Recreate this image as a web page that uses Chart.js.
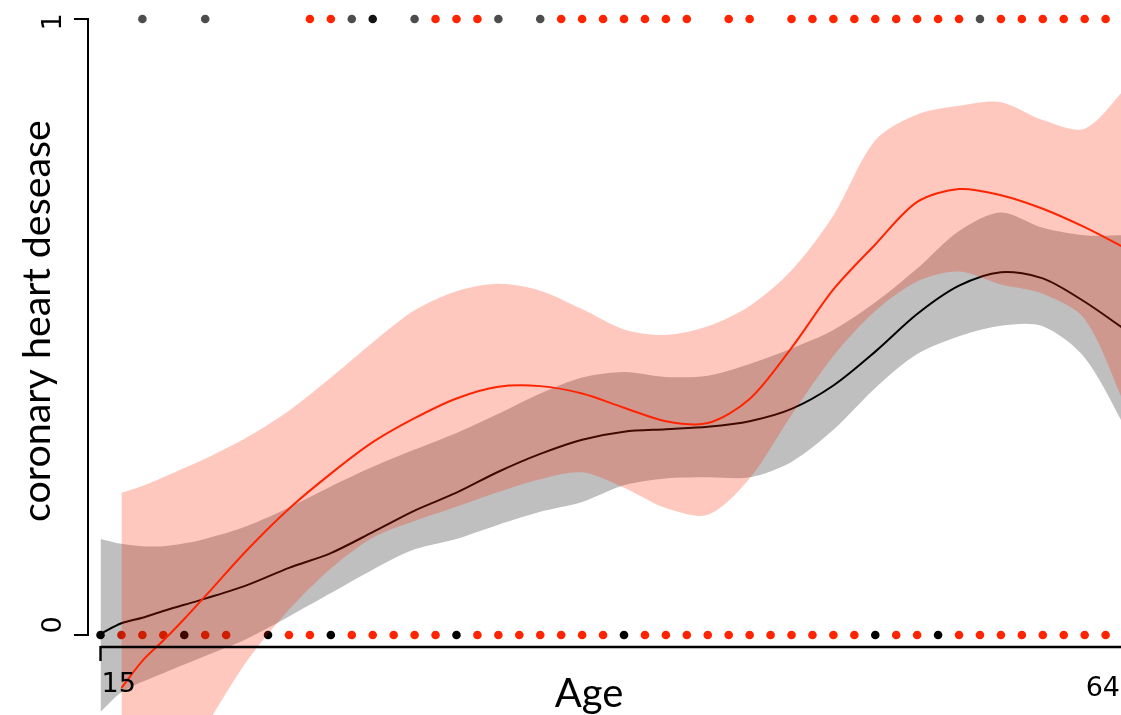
<!DOCTYPE html>
<html>
<head>
<meta charset="utf-8">
<script src="https://cdn.jsdelivr.net/npm/chart.js@4.4.1/dist/chart.umd.min.js"></script>
<style>
  html, body { margin: 0; padding: 0; background: #ffffff; }
  canvas { display: block; }
</style>
</head>
<body>
<canvas id="chart" width="1121" height="715"></canvas>
<script>
// age grid for the fitted curves
const ages = [15, 16, 17, 18, 19, 20, 22, 24, 26, 28, 30, 32, 34, 36, 38, 40, 42, 44, 46, 48, 50, 52, 54, 56, 58, 60, 62, 64];
// the red group starts one year later
const agesRed = [16, 17, 18, 19, 20, 22, 24, 26, 28, 30, 32, 34, 36, 38, 40, 42, 44, 46, 48, 50, 52, 54, 56, 58, 60, 62, 64];

// black group: fit + confidence band
const blackFit = [0.002, 0.019, 0.028, 0.039, 0.049, 0.059, 0.081, 0.109, 0.133, 0.167, 0.202, 0.231, 0.265, 0.294, 0.317, 0.330, 0.334, 0.338, 0.347, 0.367, 0.405, 0.460, 0.521, 0.567, 0.589, 0.579, 0.541, 0.494];
const blackUpper = [0.156, 0.148, 0.144, 0.144, 0.149, 0.156, 0.177, 0.207, 0.241, 0.273, 0.301, 0.328, 0.359, 0.392, 0.418, 0.427, 0.419, 0.421, 0.440, 0.465, 0.495, 0.540, 0.595, 0.656, 0.686, 0.661, 0.649, 0.649];
const blackLower = [-0.125, -0.093, -0.076, -0.062, -0.048, -0.034, -0.006, 0.030, 0.068, 0.106, 0.139, 0.156, 0.179, 0.200, 0.216, 0.243, 0.254, 0.256, 0.256, 0.281, 0.333, 0.401, 0.456, 0.485, 0.502, 0.501, 0.450, 0.333];

// red group: fit + confidence band
const redFit = [-0.086, -0.042, -0.009, 0.026, 0.063, 0.138, 0.205, 0.262, 0.313, 0.352, 0.384, 0.403, 0.404, 0.392, 0.369, 0.347, 0.344, 0.383, 0.466, 0.561, 0.634, 0.703, 0.724, 0.714, 0.692, 0.662, 0.627];
const redUpper = [0.231, 0.242, 0.256, 0.271, 0.286, 0.321, 0.364, 0.418, 0.475, 0.527, 0.558, 0.570, 0.559, 0.529, 0.496, 0.487, 0.501, 0.534, 0.592, 0.681, 0.803, 0.845, 0.859, 0.865, 0.836, 0.822, 0.889];
const redLower = [-0.368, -0.313, -0.259, -0.205, -0.150, -0.042, 0.041, 0.108, 0.158, 0.185, 0.208, 0.232, 0.253, 0.264, 0.239, 0.206, 0.195, 0.254, 0.357, 0.453, 0.526, 0.574, 0.590, 0.569, 0.554, 0.513, 0.367];

// observations (rug of points at 0 and 1)
const zeroBlack = [15, 19, 23, 26, 32, 40, 52, 55];
const zeroRed = [16, 17, 18, 20, 21, 24, 25, 27, 28, 29, 30, 31, 33, 34, 35, 36, 37, 38, 39, 41, 42, 43, 44, 45, 46, 47, 48, 49, 50, 51, 53, 54, 56, 57, 58, 59, 60, 61, 62, 63];
const oneGray = [17, 20, 27, 30, 34, 36, 57];
const oneBlack = [28];
const oneRed = [25, 26, 31, 32, 33, 37, 38, 39, 40, 41, 42, 43, 45, 46, 48, 49, 50, 51, 52, 53, 54, 55, 56, 58, 59, 60, 61, 62, 63];

const xTicks = [15, 64];
const yTicks = [0, 1];

const RED = "#ff2400";

const pts = (xs, ys) => xs.map((x, i) => ({ x, y: ys[i] }));
const rug = (xs, y) => xs.map((x) => ({ x, y }));

function band(data, color, order, fill) {
  return {
    data,
    borderColor: "rgba(0,0,0,0)",
    borderWidth: 0,
    backgroundColor: color,
    pointRadius: 0,
    tension: 0.3,
    fill,
    order,
  };
}

function curve(data, color, order) {
  return {
    data,
    borderColor: color,
    borderWidth: 2,
    pointRadius: 0,
    tension: 0.3,
    fill: false,
    order,
  };
}

function dots(data, color) {
  return {
    data,
    showLine: false,
    pointRadius: 4.3,
    pointBorderWidth: 0,
    pointBackgroundColor: color,
    borderColor: color,
    order: 6,
  };
}

// hand drawn R-style axes and titles
const axesPlugin = {
  id: "rAxes",
  afterDraw(chart) {
    const { ctx } = chart;
    const xs = chart.scales.x;
    const ys = chart.scales.y;
    const y0 = ys.getPixelForValue(yTicks[0]);
    const y1 = ys.getPixelForValue(yTicks[1]);
    const axisX = 88;
    const axisY = 647;

    ctx.save();
    ctx.strokeStyle = "#000";
    ctx.fillStyle = "#000";
    ctx.lineWidth = 2;
    ctx.lineCap = "butt";

    // y axis
    ctx.beginPath();
    ctx.moveTo(axisX, y1 - 1);
    ctx.lineTo(axisX, y0 + 1);
    yTicks.forEach((t) => {
      const p = ys.getPixelForValue(t);
      ctx.moveTo(axisX + 1, p);
      ctx.lineTo(74, p);
    });
    ctx.stroke();

    // x axis
    const x15 = xs.getPixelForValue(xTicks[0]);
    ctx.lineWidth = 2.4;
    ctx.beginPath();
    ctx.moveTo(x15, axisY);
    ctx.lineTo(chart.width, axisY);
    ctx.moveTo(x15, axisY - 1);
    ctx.lineTo(x15, 661);
    ctx.stroke();

    // y tick labels (rotated, sitting a little above their ticks as in R output)
    ctx.font = "27px 'DejaVu Sans'";
    ctx.textAlign = "center";
    ctx.textBaseline = "alphabetic";
    const yShift = { 0: -10, 1: 3 };
    yTicks.forEach((t) => {
      const p = ys.getPixelForValue(t) + yShift[t];
      ctx.save();
      ctx.translate(61, p);
      ctx.rotate(-Math.PI / 2);
      ctx.fillText(String(t), 0, 0);
      ctx.restore();
    });

    // x tick labels
    ctx.font = "27px 'DejaVu Sans'";
    ctx.textAlign = "left";
    ctx.fillText(String(xTicks[0]), x15 + 1, 692);
    ctx.textAlign = "right";
    ctx.fillText(String(xTicks[1]), chart.width - 1, 696);

    // axis titles
    ctx.font = "40px Lato";
    ctx.textAlign = "center";
    ctx.fillText("Age", 589, 707);

    const yTitle = "coronary heart desease";
    let size = 39;
    ctx.font = `${size}px Lato`;
    size = size * 402 / ctx.measureText(yTitle).width;
    ctx.font = `${size}px Lato`;
    ctx.save();
    ctx.translate(50, 321);
    ctx.rotate(-Math.PI / 2);
    ctx.fillText(yTitle, 0, 0);
    ctx.restore();
    ctx.restore();
  },
};

const canvas = document.getElementById("chart");

new Chart(canvas, {
  type: "line",
  data: {
    datasets: [
      band(pts(agesRed, redUpper), "rgba(255,36,0,0.25)", 1, 1),
      band(pts(agesRed, redLower), "rgba(0,0,0,0)", 1, false),
      curve(pts(agesRed, redFit), RED, 2),
      band(pts(ages, blackUpper), "rgba(0,0,0,0.25)", 3, 4),
      band(pts(ages, blackLower), "rgba(0,0,0,0)", 3, false),
      curve(pts(ages, blackFit), "#000000", 4),
      dots(rug(zeroRed, 0), RED),
      dots(rug(zeroBlack, 0), "#000000"),
      dots(rug(oneRed, 1), RED),
      dots(rug(oneGray, 1), "#4d4d4d"),
      dots(rug(oneBlack, 1), "#141414"),
    ],
  },
  options: {
    responsive: false,
    maintainAspectRatio: false,
    animation: false,
    layout: { padding: 0, autoPadding: false },
    plugins: {
      legend: { display: false },
      tooltip: { enabled: false },
    },
    scales: {
      x: { type: "linear", min: 10.2, max: 63.735, display: false },
      y: { type: "linear", min: -0.12987, max: 1.0308, display: false },
    },
  },
  plugins: [axesPlugin],
});
</script>
</body>
</html>
